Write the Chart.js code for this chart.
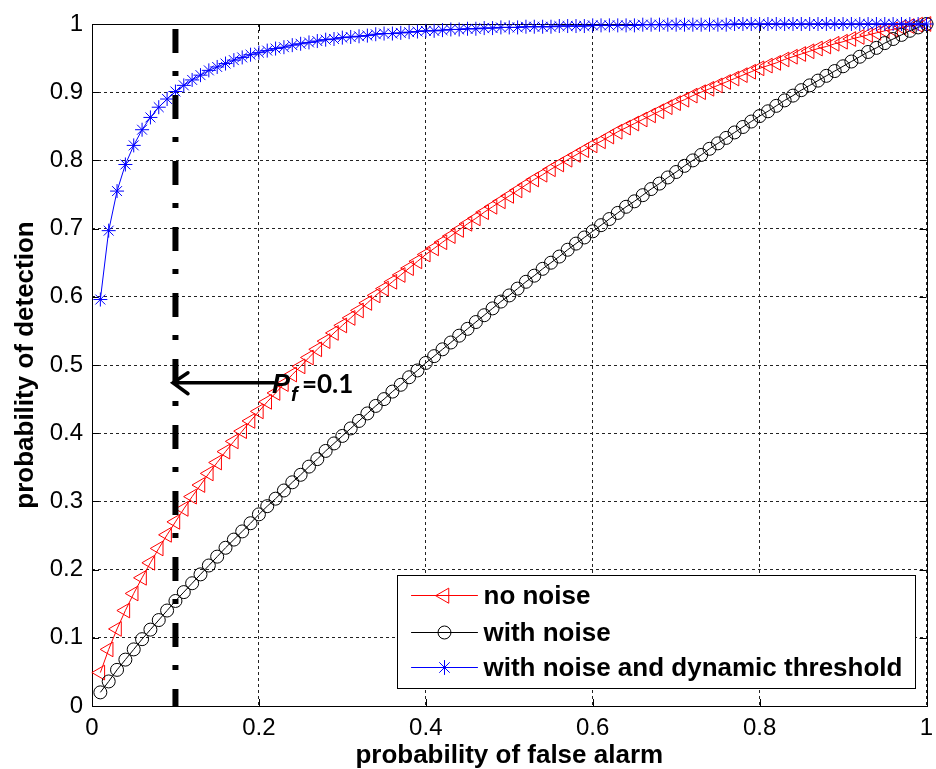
<!DOCTYPE html>
<html>
<head>
<meta charset="utf-8">
<title>ROC - probability of detection</title>
<script src="https://cdn.jsdelivr.net/npm/chart.js@4.4.1/dist/chart.umd.min.js"></script>
<style>
  html, body { margin: 0; padding: 0; background: #fff; }
  #roc-chart { display: block; }
</style>
</head>
<body>
<canvas id="roc-chart" width="936" height="769"></canvas>
<script>
// Probability of false alarm (x)
const pfValues = [
  0.01, 0.02, 0.03, 0.04, 0.05, 0.06, 0.07, 0.08, 0.09, 0.10,
  0.11, 0.12, 0.13, 0.14, 0.15, 0.16, 0.17, 0.18, 0.19, 0.20,
  0.21, 0.22, 0.23, 0.24, 0.25, 0.26, 0.27, 0.28, 0.29, 0.30,
  0.31, 0.32, 0.33, 0.34, 0.35, 0.36, 0.37, 0.38, 0.39, 0.40,
  0.41, 0.42, 0.43, 0.44, 0.45, 0.46, 0.47, 0.48, 0.49, 0.50,
  0.51, 0.52, 0.53, 0.54, 0.55, 0.56, 0.57, 0.58, 0.59, 0.60,
  0.61, 0.62, 0.63, 0.64, 0.65, 0.66, 0.67, 0.68, 0.69, 0.70,
  0.71, 0.72, 0.73, 0.74, 0.75, 0.76, 0.77, 0.78, 0.79, 0.80,
  0.81, 0.82, 0.83, 0.84, 0.85, 0.86, 0.87, 0.88, 0.89, 0.90,
  0.91, 0.92, 0.93, 0.94, 0.95, 0.96, 0.97, 0.98, 0.99, 1.00
];

// Probability of detection
const noNoise = [
  0.049, 0.083, 0.113, 0.140, 0.165, 0.188, 0.210, 0.231, 0.251, 0.270,
  0.289, 0.307, 0.324, 0.341, 0.357, 0.373, 0.388, 0.403, 0.418, 0.432,
  0.446, 0.459, 0.472, 0.486, 0.498, 0.511, 0.523, 0.535, 0.547, 0.558,
  0.569, 0.580, 0.591, 0.602, 0.612, 0.622, 0.632, 0.642, 0.652, 0.662,
  0.671, 0.680, 0.689, 0.698, 0.707, 0.715, 0.724, 0.732, 0.740, 0.748,
  0.756, 0.764, 0.772, 0.779, 0.787, 0.794, 0.801, 0.808, 0.815, 0.822,
  0.828, 0.835, 0.842, 0.848, 0.854, 0.860, 0.866, 0.872, 0.878, 0.884,
  0.889, 0.895, 0.900, 0.905, 0.910, 0.915, 0.920, 0.925, 0.930, 0.935,
  0.939, 0.943, 0.948, 0.952, 0.956, 0.960, 0.964, 0.967, 0.971, 0.974,
  0.978, 0.981, 0.984, 0.987, 0.990, 0.992, 0.995, 0.997, 0.999, 1.000
];

const withNoise = [
  0.020, 0.036, 0.053, 0.068, 0.083, 0.098, 0.112, 0.126, 0.140, 0.154,
  0.167, 0.180, 0.193, 0.206, 0.219, 0.232, 0.244, 0.256, 0.268, 0.281,
  0.293, 0.304, 0.316, 0.328, 0.339, 0.351, 0.362, 0.374, 0.385, 0.396,
  0.407, 0.418, 0.429, 0.440, 0.450, 0.461, 0.471, 0.482, 0.492, 0.503,
  0.513, 0.523, 0.533, 0.543, 0.553, 0.563, 0.573, 0.583, 0.593, 0.602,
  0.612, 0.622, 0.631, 0.641, 0.650, 0.659, 0.669, 0.678, 0.687, 0.696,
  0.705, 0.714, 0.723, 0.732, 0.740, 0.749, 0.758, 0.766, 0.775, 0.783,
  0.792, 0.800, 0.808, 0.817, 0.825, 0.833, 0.841, 0.849, 0.857, 0.865,
  0.872, 0.880, 0.888, 0.895, 0.903, 0.910, 0.917, 0.924, 0.931, 0.938,
  0.945, 0.952, 0.959, 0.965, 0.972, 0.978, 0.984, 0.990, 0.995, 1.000
];

const withNoiseDynamic = [
  0.596, 0.697, 0.755, 0.794, 0.822, 0.845, 0.863, 0.878, 0.890, 0.901,
  0.910, 0.918, 0.925, 0.932, 0.937, 0.942, 0.947, 0.951, 0.955, 0.958,
  0.961, 0.964, 0.966, 0.969, 0.971, 0.973, 0.975, 0.977, 0.978, 0.980,
  0.981, 0.982, 0.983, 0.985, 0.986, 0.986, 0.987, 0.988, 0.989, 0.990,
  0.990, 0.991, 0.992, 0.992, 0.993, 0.993, 0.994, 0.994, 0.995, 0.995,
  0.995, 0.996, 0.996, 0.996, 0.996, 0.997, 0.997, 0.997, 0.997, 0.998,
  0.998, 0.998, 0.998, 0.998, 0.998, 0.999, 0.999, 0.999, 0.999, 0.999,
  0.999, 0.999, 0.999, 0.999, 0.999, 0.999, 1.000, 1.000, 1.000, 1.000,
  1.000, 1.000, 1.000, 1.000, 1.000, 1.000, 1.000, 1.000, 1.000, 1.000,
  1.000, 1.000, 1.000, 1.000, 1.000, 1.000, 1.000, 1.000, 1.000, 1.000
];

const seriesLabels = ['no noise', 'with noise', 'with noise and dynamic threshold'];

const xTicks = [0, 0.2, 0.4, 0.6, 0.8, 1];
const xTickLabels = ['0', '0.2', '0.4', '0.6', '0.8', '1'];
const yTicks = [0, 0.1, 0.2, 0.3, 0.4, 0.5, 0.6, 0.7, 0.8, 0.9, 1];
const yTickLabels = ['0', '0.1', '0.2', '0.3', '0.4', '0.5', '0.6', '0.7', '0.8', '0.9', '1'];

// Vertical dash-dot marker at Pf = 0.1 and the arrow pointing at it
const thresholdX = [0.1, 0.1];
const thresholdY = [1, 0];
const arrowFrom = [0.218, 0.474];
const arrowTo = [0.097, 0.474];

const FONT = '"Liberation Sans", Arial, sans-serif';

function toPoints(xs, ys) {
  return xs.map((x, i) => ({ x: x, y: ys[i] }));
}

// Box, inner ticks, legend and annotation (MATLAB look)
const matlabDecor = {
  id: 'matlabDecor',
  beforeDatasetsDraw(chart) {
    const { ctx, chartArea: a, scales: { x, y } } = chart;
    ctx.save();
    ctx.strokeStyle = '#000';
    ctx.lineWidth = 1;
    ctx.setLineDash([]);
    ctx.beginPath();
    xTicks.forEach(v => {
      const px = Math.round(x.getPixelForValue(v)) + 0.5;
      ctx.moveTo(px, a.bottom); ctx.lineTo(px, a.bottom - 7);
      ctx.moveTo(px, a.top); ctx.lineTo(px, a.top + 7);
    });
    yTicks.forEach(v => {
      const py = Math.round(y.getPixelForValue(v)) + 0.5;
      ctx.moveTo(a.left, py); ctx.lineTo(a.left + 7, py);
      ctx.moveTo(a.right, py); ctx.lineTo(a.right - 7, py);
    });
    ctx.stroke();
    ctx.strokeRect(Math.round(a.left) + 0.5, Math.round(a.top) + 0.5,
      Math.round(a.width), Math.round(a.height));
    ctx.restore();
  },
  afterDraw(chart) {
    const { ctx, chartArea: a, scales: { x, y } } = chart;
    ctx.save();

    // arrow
    const x0 = x.getPixelForValue(arrowFrom[0]);
    const y0 = y.getPixelForValue(arrowFrom[1]);
    const x1 = x.getPixelForValue(arrowTo[0]);
    const y1 = y.getPixelForValue(arrowTo[1]);
    ctx.strokeStyle = '#000';
    ctx.lineWidth = 3.5;
    ctx.lineCap = 'round';
    ctx.beginPath();
    ctx.moveTo(x0, y0); ctx.lineTo(x1, y1);
    ctx.moveTo(x1 + 15, y1 - 10); ctx.lineTo(x1, y1); ctx.lineTo(x1 + 15, y1 + 11);
    ctx.stroke();

    // P_f=0.1
    ctx.fillStyle = '#000';
    ctx.textBaseline = 'alphabetic';
    ctx.textAlign = 'left';
    ctx.font = 'italic bold 27px ' + FONT;
    ctx.fillText('P', x0 - 2, y0 + 10);
    ctx.font = 'italic bold 20px ' + FONT;
    ctx.fillText('f', x0 + 17, y0 + 18);
    ctx.font = 'bold 26px Lato, ' + FONT;
    ctx.fillText('=0.1', x0 + 28, y0 + 10);

    // legend, in the order of seriesLabels
    const boxW = 518, boxH = 113;
    const bx = Math.round(a.right - 12 - boxW) + 0.5;
    const by = Math.round(a.bottom - 18 - boxH) + 0.5;
    ctx.setLineDash([]);
    ctx.fillStyle = '#fff';
    ctx.fillRect(bx, by, boxW, boxH);
    ctx.strokeStyle = '#000';
    ctx.lineWidth = 1;
    ctx.strokeRect(bx, by, boxW, boxH);

    const rows = [20, 57, 92];
    seriesLabels.forEach((label, i) => {
      const ds = chart.data.datasets.find(d => d.label === label);
      if (!ds) return;
      const ry = by + rows[i];
      ctx.strokeStyle = ds.borderColor;
      ctx.lineWidth = 1;
      ctx.beginPath();
      ctx.moveTo(bx + 14, ry); ctx.lineTo(bx + 80, ry);
      ctx.stroke();
      ctx.fillStyle = 'rgba(0,0,0,0)';
      Chart.helpers.drawPoint(ctx, {
        pointStyle: ds.pointStyle,
        rotation: ds.pointRotation || 0,
        radius: ds.pointRadius,
        borderWidth: 1
      }, bx + 47, ry);
      ctx.fillStyle = '#000';
      ctx.font = 'bold 26px ' + FONT;
      ctx.textBaseline = 'middle';
      ctx.fillText(ds.label, bx + 86, ry + 1);
    });
    ctx.restore();
  }
};

function initializeRocChart() {
  const chartElement = document.getElementById('roc-chart');
  if (!chartElement || typeof Chart === 'undefined') {
    console.warn('Chart.js or canvas missing');
    return;
  }

  Chart.defaults.font.family = FONT;
  Chart.defaults.color = '#000';

  const common = {
    borderWidth: 1,
    pointBorderWidth: 1,
    pointBackgroundColor: 'rgba(0,0,0,0)',
    tension: 0,
    clip: false
  };

  try {
    // lower order is drawn last (on top): dash-dot line, then blue, black, red
    new Chart(chartElement, {
      type: 'line',
      data: {
        datasets: [
          {
            label: 'threshold',
            data: toPoints(thresholdX, thresholdY),
            borderColor: '#000',
            borderWidth: 6,
            borderDash: [24, 18, 5, 19],
            borderDashOffset: 61,
            pointRadius: 0,
            clip: false,
            order: 0
          },
          Object.assign({}, common, {
            label: seriesLabels[2],
            data: toPoints(pfValues, withNoiseDynamic),
            borderColor: '#0000ff',
            pointBorderColor: '#0000ff',
            pointStyle: 'star',
            pointRadius: 7,
            order: 1
          }),
          Object.assign({}, common, {
            label: seriesLabels[1],
            data: toPoints(pfValues, withNoise),
            borderColor: '#000000',
            pointBorderColor: '#000000',
            pointStyle: 'circle',
            pointRadius: 6.5,
            order: 2
          }),
          Object.assign({}, common, {
            label: seriesLabels[0],
            data: toPoints(pfValues, noNoise),
            borderColor: '#ff0000',
            pointBorderColor: '#ff0000',
            pointStyle: 'triangle',
            pointRotation: -90,
            pointRadius: 8.5,
            order: 3
          })
        ]
      },
      options: {
        responsive: false,
        animation: false,
        events: [],
        layout: { padding: { top: 24, right: 5, left: 0, bottom: 0 } },
        scales: {
          x: {
            type: 'linear',
            min: 0,
            max: 1,
            afterBuildTicks: s => { s.ticks = xTicks.map(v => ({ value: v })); },
            afterFit: s => { s.height = 63; s.paddingLeft = 0; s.paddingRight = 0; },
            ticks: {
              callback: (v, i) => xTickLabels[i],
              color: '#000',
              font: { size: 24 },
              padding: 8,
              maxRotation: 0,
              autoSkip: false
            },
            grid: { color: '#222', lineWidth: 1, drawTicks: false },
            border: { display: false, dash: [3, 3] },
            title: {
              display: true,
              text: 'probability of false alarm',
              color: '#000',
              font: { size: 26, weight: 'bold', lineHeight: 1 },
              padding: { top: 0, bottom: 0 }
            }
          },
          y: {
            type: 'linear',
            min: 0,
            max: 1,
            afterBuildTicks: s => { s.ticks = yTicks.map(v => ({ value: v })); },
            afterFit: s => { s.width = 92; s.paddingTop = 0; s.paddingBottom = 0; },
            ticks: {
              callback: (v, i) => yTickLabels[i],
              color: '#000',
              font: { size: 24 },
              padding: 9,
              autoSkip: false
            },
            grid: { color: '#222', lineWidth: 1, drawTicks: false },
            border: { display: false, dash: [3, 3] },
            title: {
              display: true,
              text: 'probability of detection',
              color: '#000',
              font: { size: 26, weight: 'bold', lineHeight: 1 },
              padding: { top: 13, bottom: 0 }
            }
          }
        },
        plugins: {
          legend: { display: false },
          tooltip: { enabled: false }
        }
      },
      plugins: [matlabDecor]
    });
  } catch (e) {
    console.error('Error while building the ROC chart:', e);
  }
}

initializeRocChart();
</script>
</body>
</html>
